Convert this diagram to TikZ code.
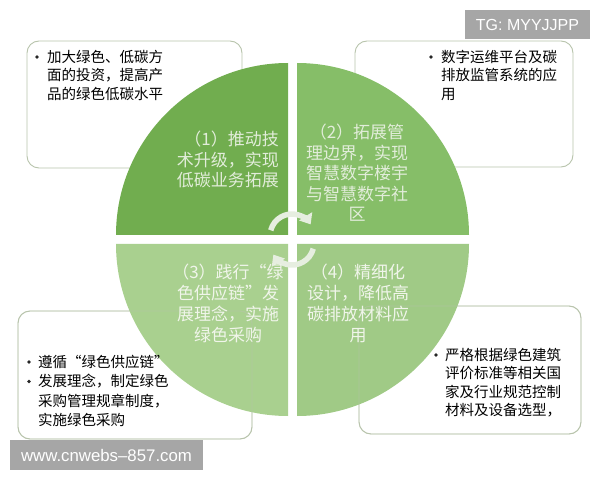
\documentclass[tikz,border=0pt]{standalone}
\usepackage{fontspec}
\setmainfont{Noto Sans CJK SC}
\newfontfamily\arialf{Liberation Sans}
\usetikzlibrary{arrows.meta}
\definecolor{qa}{HTML}{71AD4F}
\definecolor{qb}{HTML}{86BE68}
\definecolor{qc}{HTML}{A9D08F}
\definecolor{qd}{HTML}{A0CA86}
\definecolor{boxline}{HTML}{B8C4AC}
\definecolor{qtxt}{HTML}{E2EDDA}
\definecolor{qtxtb}{HTML}{F0F5EA}
\definecolor{arrowc}{HTML}{E6EEE0}
\definecolor{wm}{HTML}{A6A6A6}
\tikzset{
  infobox/.style={draw=boxline, line width=0.9pt, fill=white, rounded corners=12pt},
  boxedge/.style={draw=boxline, line width=0.9pt, rounded corners=12pt, draw opacity=0.55},
  btext/.style={inner sep=0pt, align=left, anchor=north west, text=black,
    font=\fontsize{14.5pt}{18.5pt}\selectfont},
  bdot/.style={circle, fill=black!85, inner sep=0pt, minimum size=3.6pt},
  qtext/.style={inner sep=0pt, text=qtxt, font=\fontsize{17pt}{20.5pt}\selectfont},
  qtextb/.style={inner sep=0pt, text=qtxtb, font=\fontsize{17pt}{21pt}\selectfont},
  cyc/.style={draw=arrowc, line width=5.5pt, -{Triangle[width=15pt,length=9.5pt]}},
  wmark/.style={fill=wm, text=white, inner sep=0pt, font=\arialf}
}
\begin{document}
\begin{tikzpicture}[x=1pt,y=1pt]
\useasboundingbox (0,0) rectangle (600,480);
% info boxes
\path[infobox] (27,312) rectangle (242,439);
\path[infobox] (355,313) rectangle (573,439);
\path[infobox] (18,41) rectangle (252,169);
\path[infobox] (359,46) rectangle (581,174);
% quadrants
\fill[qa] (288,245) -- (116,245) arc[start angle=180,end angle=90,radius=172] -- cycle;
\fill[qb] (297,245) -- (297,417) arc[start angle=90,end angle=0,radius=172] -- cycle;
\fill[qc] (288,236) -- (116,236) arc[start angle=180,end angle=270,radius=172] -- cycle;
\fill[qd] (297,236) -- (469,236) arc[start angle=0,end angle=-90,radius=172] -- cycle;
% box edges seen through the lower quadrants
\path[boxedge] (18,41) rectangle (252,169);
\path[boxedge] (359,46) rectangle (581,174);
% cycle arrows
\coordinate (ca) at (292,244);
\coordinate (cb) at (292,237);
\draw[cyc] ([shift={(165:22)}]ca) arc[start angle=165,end angle=32,radius=22];
\draw[cyc] ([shift={(-15:22)}]cb) arc[start angle=-15,end angle=-148,radius=22];
% quadrant texts
\node[qtext, align=right, anchor=north east] (q1) at (279,349) {（1）推动技\\术升级，实现\\低碳业务拓展};
\node[qtext, align=center, anchor=north] (q2) at (357,356) {（2）拓展管\\理边界，实现\\智慧数字楼宇\\与智慧数字社\\区};
\node[qtextb, align=center, anchor=north] (q3) at (228,216) {（3）践行“绿\\色供应链”发\\展理念，实施\\绿色采购};
\node[qtextb, align=center, anchor=north] (q4) at (358,216) {（4）精细化\\设计，降低高\\碳排放材料应\\用};
% box texts
\node[bdot] (d1) at (37,423) {};
\node[btext] (t1) at (47,430) {加大绿色、低碳方\\面的投资，提高产\\品的绿色低碳水平};
\node[bdot] (d2) at (431,423) {};
\node[btext] (t2) at (441,430) {数字运维平台及碳\\排放监管系统的应\\用};
\node[bdot] (d3a) at (29,118) {};
\node[bdot] (d3b) at (29,98.5) {};
\node[btext, font=\fontsize{14.5pt}{19.3pt}\selectfont] (t3) at (38,125) {遵循“绿色供应链”\\发展理念，制定绿色\\采购管理规章制度，\\实施绿色采购};
\node[bdot] (d4) at (436,125) {};
\node[btext] (t4) at (445,132) {严格根据绿色建筑\\评价标准等相关国\\家及行业规范控制\\材料及设备选型，};
% watermarks
\node[wmark, minimum width=125pt, minimum height=29pt, font=\arialf\fontsize{16pt}{18pt}\selectfont] (tg) at (527.5,455.5) {TG: MYYJJPP};
\node[wmark, minimum width=193pt, minimum height=30pt, font=\arialf\fontsize{16.8pt}{18pt}\selectfont] (www) at (106.5,25) {www.cnwebs–857.com};
\end{tikzpicture}
\end{document}
